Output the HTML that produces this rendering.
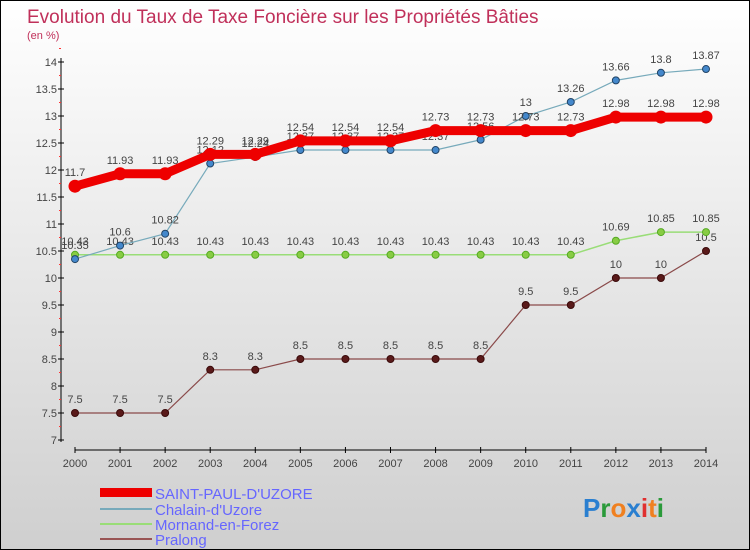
<!DOCTYPE html>
<html><head><meta charset="utf-8"><style>
body{margin:0}
#c{width:748px;height:548px;border:1px solid #000;background:linear-gradient(#fff,#cfcfcf);position:relative;font-family:"Liberation Sans",sans-serif;overflow:hidden}
</style></head><body>
<div id="c">
<svg id="s" width="748" height="548" xmlns="http://www.w3.org/2000/svg" font-family="Liberation Sans, sans-serif">
<text x="26" y="22" font-size="19" fill="#c0305a">Evolution du Taux de Taxe Foncière sur les Propriétés Bâties</text>
<text x="26" y="38" font-size="11" fill="#c0305a">(en %)</text>
<g id="axes"></g><g id="series"></g>
<g>
<rect x="99" y="487" width="52" height="9" fill="#e00"/>
<text x="154" y="498" font-size="15" fill="#66f">SAINT-PAUL-D'UZORE</text>
<rect x="99" y="507" width="52" height="2" fill="#7ab"/>
<text x="154" y="514" font-size="15" fill="#66f">Chalain-d'Uzore</text>
<rect x="99" y="522" width="52" height="2" fill="#9d7"/>
<text x="154" y="529" font-size="15" fill="#66f">Mornand-en-Forez</text>
<rect x="99" y="537" width="52" height="2" fill="#955"/>
<text x="154" y="544" font-size="15" fill="#66f">Pralong</text>
</g>
<text x="582" y="516" font-size="26" font-weight="bold"><tspan fill="#2a7fd0">P</tspan><tspan fill="#2a9a3a">r</tspan><tspan fill="#f08020">o</tspan><tspan fill="#2a7fd0">x</tspan><tspan fill="#e03030">i</tspan><tspan fill="#f08020">t</tspan><tspan fill="#2a9a3a">i</tspan></text>
</svg></div>
<script>
const years=[2000,2001,2002,2003,2004,2005,2006,2007,2008,2009,2010,2011,2012,2013,2014];
const yTicks=[7,7.5,8,8.5,9,9.5,10,10.5,11,11.5,12,12.5,13,13.5,14];
const saintPaul=[11.7,11.93,11.93,12.29,12.29,12.54,12.54,12.54,12.73,12.73,12.73,12.73,12.98,12.98,12.98];
const chalain=[10.35,10.6,10.82,12.12,12.24,12.37,12.37,12.37,12.37,12.56,13,13.26,13.66,13.8,13.87];
const mornand=[10.43,10.43,10.43,10.43,10.43,10.43,10.43,10.43,10.43,10.43,10.43,10.43,10.69,10.85,10.85];
const pralong=[7.5,7.5,7.5,8.3,8.3,8.5,8.5,8.5,8.5,8.5,9.5,9.5,10,10,10.5];
const NS="http://www.w3.org/2000/svg";
const X=i=>74+i*(705-74)/(years.length-1);
const Y=v=>439-(v-7)*(439-61)/7;
function mk(t,a,p){const e=document.createElementNS(NS,t);for(const k in a)e.setAttribute(k,a[k]);p.appendChild(e);return e;}
const ax=document.getElementById('axes');
const yl=mk('line',{x1:60,y1:57,x2:60,y2:441,stroke:'#000','stroke-width':1},ax);


const xl=mk('line',{x1:74,y1:449,x2:705,y2:449,stroke:'#000','stroke-width':1},ax);


yTicks.forEach(v=>{
 mk('line',{x1:57,x2:63,y1:Y(v),y2:Y(v),stroke:'#000'},ax);
 mk('line',{x1:58,x2:60,y1:Y(v+0.25),y2:Y(v+0.25),stroke:'#f33'},ax);
 const t=mk('text',{x:56,y:Y(v)+4,'font-size':11,fill:'#444','text-anchor':'end'},ax);
 t.textContent=v;
 
 
});
years.forEach((yr,i)=>{
 mk('line',{x1:X(i),x2:X(i),y1:446,y2:452,stroke:'#000'},ax);
 const t=mk('text',{x:X(i),y:466,'font-size':11,fill:'#444','text-anchor':'middle'},ax);
 t.textContent=yr;
 
 
});
const sg=document.getElementById('series');
function draw(vals,name,color,w,dot,dotStroke,r){
 const g=mk('g',{},sg);
 
 
 const pl=mk('polyline',{points:vals.map((v,i)=>X(i)+','+Y(v)).join(' '),fill:'none',stroke:color,'stroke-width':w},g);
 
 
 vals.forEach((v,i)=>{
  const c=mk('circle',{cx:X(i),cy:Y(v),r:r,fill:dot,stroke:dotStroke},g);
  
  
  const t=mk('text',{x:X(i),y:Y(v)-10,'font-size':11,fill:'#444','text-anchor':'middle'},g);
  t.textContent=v;
  
  
 });
}
draw(pralong,'pralong','#8a4a4a',1.2,'#5a1a1a','#3a0a0a',3.5);
draw(mornand,'mornand','#9d7',1.5,'#8c4','#5a2',3.5);
draw(chalain,'chalain','#7ab',1.2,'#48c','#246',3.5);
draw(saintPaul,'saint-paul','#e00',9,'#e00','#e00',6);
</script>
</body></html>
